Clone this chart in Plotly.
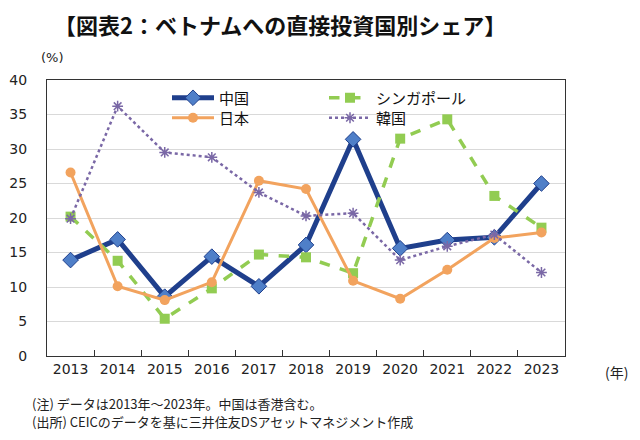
import plotly.graph_objects as go

years = ["2013", "2014", "2015", "2016", "2017", "2018", "2019", "2020", "2021", "2022", "2023"]
china = [13.9, 16.9, 8.6, 14.4, 10.1, 16.1, 31.4, 15.6, 16.8, 17.2, 25.0]
singapore = [20.2, 13.8, 5.4, 9.8, 14.7, 14.3, 12.0, 31.5, 34.3, 23.2, 18.6]
japan = [26.6, 10.1, 8.1, 10.7, 25.4, 24.2, 10.9, 8.3, 12.5, 17.1, 17.9]
korea = [19.9, 36.2, 29.5, 28.8, 23.7, 20.3, 20.7, 13.9, 15.9, 17.6, 12.1]

JP = "Noto Sans CJK JP"
NUM = "DejaVu Sans, Noto Sans CJK JP"

OFF = 8  # page body offset
# target plot box in screen pixels
SL, SR, ST, SB = 47, 565, 80, 356
L, T = SL - OFF, ST - OFF
R = 640 - (SR - OFF)
B = 440 - (SB - OFF)
PW, PH = SR - SL, SB - ST


def px(x):
    return (x - SL) / PW


def py(y):
    return (SB - y) / PH


fig = go.Figure()
fig.add_trace(go.Scatter(
    x=years, y=china, name="中国", mode="lines+markers", legend="legend",
    line=dict(color="#1F3F8C", width=5),
    marker=dict(symbol="diamond", size=12, color="#4F7FC8", line=dict(color="#1F3F8C", width=1))))
fig.add_trace(go.Scatter(
    x=years, y=singapore, name="シンガポール", mode="lines+markers", legend="legend",
    line=dict(color="#92CC52", width=3.5, dash="dash"),
    marker=dict(symbol="square", size=10, color="#92CC52")))
fig.add_trace(go.Scatter(
    x=years, y=japan, name="日本", mode="lines+markers", legend="legend2",
    line=dict(color="#F2A35E", width=3),
    marker=dict(symbol="circle", size=10, color="#F2A35E")))
fig.add_trace(go.Scatter(
    x=years, y=korea, name="韓国", mode="lines+markers", legend="legend2",
    line=dict(color="#7A68A6", width=2.5, dash="dot"),
    marker=dict(symbol="asterisk-open", size=9, color="#7A68A6", line=dict(color="#7A68A6", width=1.5))))

leg_common = dict(orientation="h", xanchor="left", yanchor="middle", bgcolor="rgba(0,0,0,0)",
                  font=dict(size=15, color="#111111"), itemwidth=42,
                  entrywidth=100, entrywidthmode="pixels", traceorder="normal")

fig.update_layout(
    width=640, height=440,
    margin=dict(l=L, r=R, t=T, b=B, autoexpand=False),
    paper_bgcolor="white", plot_bgcolor="white",
    font=dict(family=JP, size=13, color="#222222"),
    showlegend=True,
    legend=dict(x=px(167), y=py(98), **leg_common),
    legend2=dict(x=px(167), y=py(118), **leg_common),
    xaxis=dict(type="category", range=[-0.5, 10.5], tickson="boundaries", ticks="inside", ticklen=6,
               tickcolor="#333333", showline=True, linecolor="#333333", linewidth=1,
               mirror=True, showgrid=False, automargin=False,
               tickfont=dict(family=NUM, size=14, color="#222222")),
    yaxis=dict(range=[0, 40], dtick=5, showgrid=True, gridcolor="#D9D9D9", gridwidth=1,
               showline=True, linecolor="#333333", linewidth=1, mirror=True, automargin=False,
               ticks="", ticklabelstandoff=16, tickfont=dict(family=NUM, size=14, color="#222222"),
               zeroline=False),
    annotations=[
        dict(text="<b>【図表2：ベトナムへの直接投資国別シェア】</b>", x=px(280), y=py(24),
             xref="paper", yref="paper", xanchor="center", yanchor="middle",
             showarrow=False, font=dict(size=22, color="#111111")),
        dict(text="(%)", x=px(39), y=py(57), xref="paper", yref="paper", xanchor="left", yanchor="middle",
             showarrow=False, font=dict(family=NUM, size=13)),
        dict(text="(年)", x=px(603), y=py(372), xref="paper", yref="paper", xanchor="left", yanchor="middle",
             showarrow=False, font=dict(size=14)),
        dict(text="(注) データは2013年～2023年。中国は香港含む。",
             x=px(30), y=py(403), xref="paper", yref="paper", xanchor="left", yanchor="middle",
             showarrow=False, font=dict(size=13, color="#222222")),
        dict(text="(出所) CEICのデータを基に三井住友DSアセットマネジメント作成",
             x=px(30), y=py(421), xref="paper", yref="paper", xanchor="left", yanchor="middle",
             showarrow=False, font=dict(size=13, color="#222222")),
    ],
)

fig.write_html("out.html")
